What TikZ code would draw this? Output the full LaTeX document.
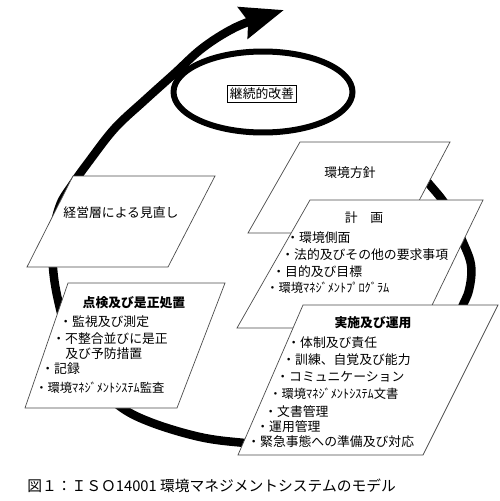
\documentclass[tikz,border=0pt]{standalone}
\usepackage{fontspec}
\setmainfont{Noto Sans CJK JP}
\usetikzlibrary{arrows.meta}
\newcommand{\hwsize}{\fontsize{7}{8}\selectfont}

\begin{document}
\begin{tikzpicture}[x=0.02cm, y=-0.02cm,
    frame/.style={draw=black!70, fill=white, line width=0.4pt},
    label/.style={inner sep=0pt, font=\fontsize{7.3}{8}\selectfont},
    heading/.style={label, font=\fontsize{7.3}{8}\selectfont\bfseries},
    item/.style={label, anchor=west}]
  \useasboundingbox (0,0) rectangle (500,501);

  % Draw spiral
  \draw[line width=0.17cm, -{Stealth[length=0.85cm, width=0.64cm, inset=0.1cm]}]
    plot[smooth, tension=0.6] coordinates {
      (395,150) (412,165) (430,185) (447,207) (462,240) (471,265) (469,290)
      (460,312) (440,365) (410,405) (360,435) (300,447) (245,443) (200,437)
      (150,422) (118,405) (88,375) (68,335) (58,300) (53,268) (53,235)
      (60,205) (72,185) (90,160) (115,128) (145,100) (175,73) (200,50)
      (225,33) (248,22) (284,10)};
  \draw[line width=0.12cm] (263,92) ellipse [x radius=1.79cm, y radius=0.81cm];
  \node[label, draw=black, line width=0.5pt, fill=white, inner xsep=1.2pt, inner ysep=1.6pt] (kaizen) at (262,94) {継続的改善};

  % Draw boxes
  \draw[frame] (27,267) -- (73,176) -- (215,176) -- (168,267) -- cycle;
  \draw[frame] (25,408) -- (68,283) -- (225,283) -- (177,408) -- cycle;
  \draw[frame] (248,233) -- (300,142) -- (450,142) -- (402,233) -- cycle;
  \draw[frame] (237,328) -- (310,200) -- (483,200) -- (421,328) -- cycle;
  \draw[frame] (238,455) -- (303,305) -- (498,305) -- (423,455) -- cycle;

  % Box titles
  \node[label] (review) at (121,213) {経営層による見直し};
  \node[label] (policy) at (350,173) {環境方針};
  \node[label] (plan) at (364,218) {計　画};
  \node[heading] (doing) at (373,323) {実施及び運用};
  \node[heading] (check) at (134,303) {点検及び是正処置};

  % Label the items
  \foreach \x/\y/\t [count=\i] in {286/238/・環境側面, 281/255/・法的及びその他の要求事項,
      272/272/・目的及び目標, 266/288/{\hwsize ・環境ﾏﾈｼﾞﾒﾝﾄﾌﾟﾛｸﾞﾗﾑ}}
    \node[item] (plan\i) at (\x,\y) {\t};
  \foreach \x/\y/\t [count=\i] in {287/343/・体制及び責任, 282/360/・訓練、自覚及び能力,
      276/377/・コミュニケーション, 269/394/{\hwsize ・環境ﾏﾈｼﾞﾒﾝﾄｼｽﾃﾑ文書},
      264/412/・文書管理, 256/427/・運用管理, 247/442/・緊急事態への準備及び対応}
    \node[item] (doing\i) at (\x,\y) {\t};
  \foreach \x/\y/\t [count=\i] in {59/322/・監視及び測定, 52/339/・不整合並びに是正,
      65/354/及び予防措置, 41/369/・記録, 35/388/{\hwsize ・環境ﾏﾈｼﾞﾒﾝﾄｼｽﾃﾑ監査}}
    \node[item] (check\i) at (\x,\y) {\t};

  \node[label, anchor=west, font=\fontsize{8.4}{9}\selectfont] (caption) at (27,486) {図１：ＩＳＯ14001 環境マネジメントシステムのモデル};
\end{tikzpicture}
\end{document}
